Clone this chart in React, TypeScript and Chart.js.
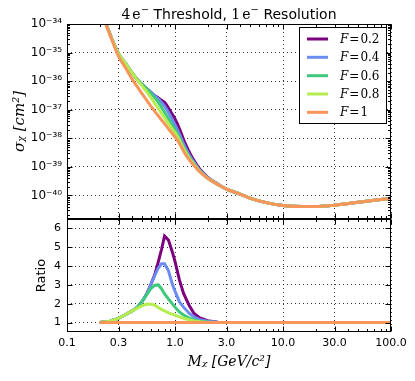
import React, { useEffect, useRef } from 'react';
import { Chart, registerables } from 'chart.js';

Chart.register(...registerables);

// Dark matter mass grid [GeV/c^2]
const masses = [0.2, 0.25, 0.3, 0.35, 0.4, 0.45, 0.5, 0.55, 0.6, 0.65, 0.7, 0.75, 0.8, 0.87, 0.95, 1.0, 1.1, 1.2, 1.35, 1.5, 1.7, 2.0, 2.5, 3.0, 4.0, 5.0, 7.0, 10, 15, 20, 30, 50, 70, 100];

// Cross sections [cm^2]
const sigmaF02 = [4.0e-34, 4.46e-35, 9.04e-36, 4.03e-36, 1.94e-36, 1.12e-36, 7.46e-37, 5.33e-37, 4.03e-37, 3.09e-37, 2.60e-37, 2.13e-37, 1.81e-37, 1.15e-37, 6.63e-38, 4.76e-38, 2.15e-38, 9.05e-39, 3.42e-39, 1.66e-39, 8.26e-40, 4.38e-40, 2.45e-40, 1.66e-40, 1.12e-40, 7.94e-41, 5.62e-41, 4.47e-41, 4.07e-41, 4.07e-41, 4.57e-41, 5.75e-41, 6.76e-41, 7.94e-41];
const sigmaF04 = [4.0e-34, 4.46e-35, 9.04e-36, 4.03e-36, 1.94e-36, 1.12e-36, 7.46e-37, 5.33e-37, 4.03e-37, 3.05e-37, 2.41e-37, 1.80e-37, 1.33e-37, 8.03e-38, 4.23e-38, 2.99e-38, 1.39e-38, 6.46e-39, 2.67e-39, 1.46e-39, 7.60e-40, 4.26e-40, 2.45e-40, 1.66e-40, 1.12e-40, 7.94e-41, 5.62e-41, 4.47e-41, 4.07e-41, 4.07e-41, 4.57e-41, 5.75e-41, 6.76e-41, 7.94e-41];
const sigmaF06 = [4.0e-34, 4.46e-35, 9.04e-36, 4.03e-36, 1.94e-36, 1.12e-36, 7.46e-37, 5.23e-37, 3.72e-37, 2.60e-37, 1.85e-37, 1.22e-37, 8.16e-38, 4.82e-38, 2.79e-38, 2.04e-38, 1.03e-38, 4.97e-39, 2.23e-39, 1.28e-39, 7.07e-40, 4.10e-40, 2.42e-40, 1.66e-40, 1.12e-40, 7.94e-41, 5.62e-41, 4.47e-41, 4.07e-41, 4.07e-41, 4.57e-41, 5.75e-41, 6.76e-41, 7.94e-41];
const sigmaF08 = [4.0e-34, 4.46e-35, 9.04e-36, 4.03e-36, 1.94e-36, 1.09e-36, 6.59e-37, 4.14e-37, 2.60e-37, 1.67e-37, 1.11e-37, 7.43e-38, 5.25e-38, 3.25e-38, 2.03e-38, 1.57e-38, 8.59e-39, 4.37e-39, 2.05e-39, 1.22e-39, 6.87e-40, 4.02e-40, 2.40e-40, 1.66e-40, 1.12e-40, 7.94e-41, 5.62e-41, 4.47e-41, 4.07e-41, 4.07e-41, 4.57e-41, 5.75e-41, 6.76e-41, 7.94e-41];
const sigmaF1 = [4.0e-34, 4.17e-35, 7.41e-36, 2.82e-36, 1.20e-36, 6.17e-37, 3.47e-37, 2.09e-37, 1.32e-37, 8.71e-38, 6.17e-38, 4.37e-38, 3.24e-38, 2.14e-38, 1.41e-38, 1.12e-38, 6.61e-39, 3.55e-39, 1.78e-39, 1.12e-39, 6.61e-40, 3.98e-40, 2.40e-40, 1.66e-40, 1.12e-40, 7.94e-41, 5.62e-41, 4.47e-41, 4.07e-41, 4.07e-41, 4.57e-41, 5.75e-41, 6.76e-41, 7.94e-41];

// Ratio to F = 1
const ratioF02 = [1.0, 1.07, 1.22, 1.43, 1.62, 1.82, 2.15, 2.55, 3.05, 3.55, 4.22, 4.88, 5.6, 5.38, 4.7, 4.25, 3.25, 2.55, 1.92, 1.48, 1.25, 1.1, 1.02, 1.0, 1.0, 1.0, 1.0, 1.0, 1.0, 1.0, 1.0, 1.0, 1.0, 1.0];
const ratioF04 = [1.0, 1.07, 1.22, 1.43, 1.62, 1.82, 2.15, 2.55, 3.05, 3.5, 3.9, 4.12, 4.12, 3.75, 3.0, 2.67, 2.1, 1.82, 1.5, 1.3, 1.15, 1.07, 1.02, 1.0, 1.0, 1.0, 1.0, 1.0, 1.0, 1.0, 1.0, 1.0, 1.0, 1.0];
const ratioF06 = [1.0, 1.07, 1.22, 1.43, 1.62, 1.82, 2.15, 2.5, 2.82, 2.98, 3.0, 2.8, 2.52, 2.25, 1.98, 1.82, 1.56, 1.4, 1.25, 1.14, 1.07, 1.03, 1.01, 1.0, 1.0, 1.0, 1.0, 1.0, 1.0, 1.0, 1.0, 1.0, 1.0, 1.0];
const ratioF08 = [1.0, 1.07, 1.22, 1.43, 1.62, 1.77, 1.9, 1.98, 1.97, 1.92, 1.8, 1.7, 1.62, 1.52, 1.44, 1.4, 1.3, 1.23, 1.15, 1.09, 1.04, 1.01, 1.0, 1.0, 1.0, 1.0, 1.0, 1.0, 1.0, 1.0, 1.0, 1.0, 1.0, 1.0];
const ratioF1 = [1.0, 1.0, 1.0, 1.0, 1.0, 1.0, 1.0, 1.0, 1.0, 1.0, 1.0, 1.0, 1.0, 1.0, 1.0, 1.0, 1.0, 1.0, 1.0, 1.0, 1.0, 1.0, 1.0, 1.0, 1.0, 1.0, 1.0, 1.0, 1.0, 1.0, 1.0, 1.0, 1.0, 1.0];

const fLabels = ['0.2', '0.4', '0.6', '0.8', '1'];
const seriesColors = ['#7d007f', '#6b8cf0', '#3ec97b', '#b5ec4f', '#f7955a'];

const xTicks = [0.1, 0.3, 1, 3, 10, 30, 100];
const xTickLabels = ['0.1', '0.3', '1.0', '3.0', '10.0', '30.0', '100.0'];
const sigmaExponents = [-40, -39, -38, -37, -36, -35, -34];
const ratioTicks = [1, 2, 3, 4, 5, 6];

const SUP: Record<string, string> = { '-': '⁻', '0': '⁰', '1': '¹', '2': '²', '3': '³', '4': '⁴', '5': '⁵', '6': '⁶', '7': '⁷', '8': '⁸', '9': '⁹' };
const sup = (s: string) => s.split('').map((c) => SUP[c] ?? c).join('');

const SANS = '"DejaVu Sans", sans-serif';
const SERIF = '"DejaVu Serif", serif';

const decorPlugin = {
  id: 'decor',
  afterDraw(chart: any) {
    const ctx: CanvasRenderingContext2D = chart.ctx;
    const xs = chart.scales.x;
    const ys = chart.scales.ySig;
    const yr = chart.scales.yRat;
    const L = Math.round(chart.chartArea.left) + 0.5;
    const R = Math.round(chart.chartArea.right) - 0.5;
    const panels = [
      { top: Math.round(ys.top) + 0.5, bottom: Math.round(ys.bottom) - 0.5 },
      { top: Math.round(yr.top) + 0.5, bottom: Math.round(yr.bottom) - 0.5 },
    ];
    ctx.save();
    ctx.strokeStyle = '#000';
    ctx.lineWidth = 1;
    ctx.setLineDash([]);
    const line = (x1: number, y1: number, x2: number, y2: number) => {
      ctx.beginPath();
      ctx.moveTo(x1, y1);
      ctx.lineTo(x2, y2);
      ctx.stroke();
    };
    // frames
    for (const p of panels) {
      ctx.strokeRect(L, p.top, R - L, p.bottom - p.top);
    }
    // x ticks (inside, both panels, top and bottom)
    const xMinor: number[] = [];
    for (const d of [0.1, 1, 10]) for (let k = 2; k <= 9; k++) if (k !== 3) xMinor.push(k * d);
    for (const p of panels) {
      for (const v of xTicks) {
        const px = Math.round(xs.getPixelForValue(v)) + 0.5;
        line(px, p.top, px, p.top + 5);
        line(px, p.bottom, px, p.bottom - 5);
      }
      for (const v of xMinor) {
        const px = Math.round(xs.getPixelForValue(v)) + 0.5;
        line(px, p.top, px, p.top + 2.5);
        line(px, p.bottom, px, p.bottom - 2.5);
      }
    }
    // y ticks top panel (log)
    for (let e = -41; e <= -34; e++) {
      for (let k = 1; k <= 9; k++) {
        const v = k * Math.pow(10, e);
        if (v < ys.min || v > ys.max) continue;
        const py = Math.round(ys.getPixelForValue(v)) + 0.5;
        const len = k === 1 ? 5 : 2.5;
        line(L, py, L + len, py);
        line(R, py, R - len, py);
      }
    }
    // y ticks ratio panel
    for (const v of ratioTicks) {
      const py = Math.round(yr.getPixelForValue(v)) + 0.5;
      line(L, py, L + 5, py);
      line(R, py, R - 5, py);
    }

    // Legend
    const bx = 299.5, by = 27.5, bw = 87, bh = 96;
    ctx.fillStyle = '#fff';
    ctx.fillRect(bx, by, bw, bh);
    ctx.strokeRect(bx, by, bw, bh);
    const rows = [39, 57.3, 75.7, 94, 112.3];
    ctx.textBaseline = 'middle';
    rows.forEach((ry, i) => {
      ctx.strokeStyle = seriesColors[i];
      ctx.lineWidth = 3;
      line(307, ry, 328, ry);
      ctx.fillStyle = '#000';
      ctx.textAlign = 'left';
      let lx = 340;
      ctx.font = `italic 12px ${SERIF}`;
      ctx.fillText('F', lx, ry + 1);
      lx += ctx.measureText('F').width + 1;
      ctx.font = `12px ${SERIF}`;
      ctx.fillText('=', lx, ry + 1);
      lx += ctx.measureText('=').width + 1;
      ctx.fillText(fLabels[i], lx, ry + 1);
    });

    // Title
    const segs = [
      { t: '4', f: `14px ${SERIF}`, dy: 0 },
      { t: 'e', f: `14px ${SERIF}`, dy: 0 },
      { t: '−', f: `10px ${SERIF}`, dy: -6 },
      { t: ' Threshold, ', f: `14px ${SANS}`, dy: 0 },
      { t: '1', f: `14px ${SERIF}`, dy: 0 },
      { t: 'e', f: `14px ${SERIF}`, dy: 0 },
      { t: '−', f: `10px ${SERIF}`, dy: -6 },
      { t: ' Resolution', f: `14px ${SANS}`, dy: 0 },
    ];
    let total = 0;
    const widths = segs.map((s) => {
      ctx.font = s.f;
      const w = ctx.measureText(s.t).width + (s.t === '4' || s.t === '1' ? 2 : 0);
      total += w;
      return w;
    });
    let tx = (chart.chartArea.left + chart.chartArea.right) / 2 - total / 2;
    ctx.fillStyle = '#000';
    ctx.textBaseline = 'alphabetic';
    segs.forEach((s, i) => {
      ctx.font = s.f;
      ctx.fillText(s.t, tx, 19 + s.dy);
      tx += widths[i];
    });
    ctx.restore();
  },
};

export default function App() {
  const ref = useRef<HTMLCanvasElement>(null);
  useEffect(() => {
    const canvas = ref.current!;
    const xy = (ys: number[]) => masses.map((m, i) => ({ x: m, y: ys[i] }));
    const sigmaSeries = [sigmaF02, sigmaF04, sigmaF06, sigmaF08, sigmaF1];
    const ratioSeries = [ratioF02, ratioF04, ratioF06, ratioF08, ratioF1];
    const datasets: any[] = [
      ...sigmaSeries.map((s, i) => ({
        label: 'F=' + fLabels[i],
        data: xy(s),
        yAxisID: 'ySig',
        borderColor: seriesColors[i],
        backgroundColor: seriesColors[i],
        borderWidth: 3,
        pointRadius: 0,
        cubicInterpolationMode: 'monotone',
        order: 4 - i,
      })),
      ...ratioSeries.map((s, i) => ({
        label: 'Ratio F=' + fLabels[i],
        data: xy(s),
        yAxisID: 'yRat',
        borderColor: seriesColors[i],
        backgroundColor: seriesColors[i],
        borderWidth: 3,
        pointRadius: 0,
        tension: 0,
        order: 4 - i,
      })),
    ];
    const gridOpts = { color: 'rgba(0,0,0,0.8)', lineWidth: 1, drawTicks: false };
    const borderOpts = { display: false, dash: [1, 3] };
    const tickFont = { family: SANS, size: 11 };
    const chart = new Chart(canvas, {
      type: 'line',
      data: { datasets },
      options: {
        responsive: false,
        animation: false,
        devicePixelRatio: 1,
        layout: { padding: { top: 24, right: 24, left: 0, bottom: 0 } },
        plugins: { legend: { display: false }, tooltip: { enabled: false }, title: { display: false } },
        scales: {
          x: {
            type: 'logarithmic',
            position: 'bottom',
            min: 0.1,
            max: 100,
            afterBuildTicks: (s: any) => { s.ticks = xTicks.map((v) => ({ value: v, major: false })); },
            afterFit: (s: any) => { s.height = 49; },
            ticks: {
              autoSkip: false,
              maxRotation: 0,
              padding: 5,
              color: '#000',
              font: tickFont,
              callback: (_v: any, i: number) => xTickLabels[i],
            },
            grid: gridOpts,
            border: borderOpts,
            title: {
              display: true,
              text: 'Mᵪ [GeV/c²]',
              color: '#000',
              font: { family: SERIF, style: 'italic', size: 14 },
              padding: { top: 0, bottom: 10 },
            },
          },
          yRat: {
            type: 'linear',
            position: 'left',
            stack: 'panels',
            stackWeight: 113,
            min: 0.5,
            max: 6.5,
            afterBuildTicks: (s: any) => { s.ticks = ratioTicks.map((v) => ({ value: v })); },
            afterFit: (s: any) => { s.width = 67; },
            ticks: { autoSkip: false, padding: 6, color: '#000', font: tickFont, callback: (v: any) => String(v) },
            grid: gridOpts,
            border: borderOpts,
            title: {
              display: true,
              text: 'Ratio',
              color: '#000',
              font: { family: SANS, size: 13 },
              padding: { top: 34, bottom: 0 },
            },
          },
          ySig: {
            type: 'logarithmic',
            position: 'left',
            stack: 'panels',
            stackWeight: 195,
            min: 1.5e-41,
            max: 1e-34,
            afterBuildTicks: (s: any) => { s.ticks = sigmaExponents.map((e) => ({ value: Math.pow(10, e) })); },
            afterFit: (s: any) => { s.width = 67; },
            ticks: {
              autoSkip: false,
              padding: 5,
              color: '#000',
              font: { family: SANS, size: 12 },
              callback: (_v: any, i: number) => '10' + sup(String(sigmaExponents[i])),
            },
            grid: gridOpts,
            border: borderOpts,
            title: {
              display: true,
              text: 'σᵪ [cm²]',
              color: '#000',
              font: { family: SERIF, style: 'italic', size: 15 },
              padding: { top: 11, bottom: 0 },
            },
          },
        },
      } as any,
      plugins: [decorPlugin],
    });
    return () => chart.destroy();
  }, []);
  return (
    <div style={{ position: 'absolute', left: 0, top: 0, width: 415, height: 381, background: '#fff' }}>
      <canvas ref={ref} width={415} height={381} style={{ display: 'block', width: 415, height: 381 }} />
    </div>
  );
}
